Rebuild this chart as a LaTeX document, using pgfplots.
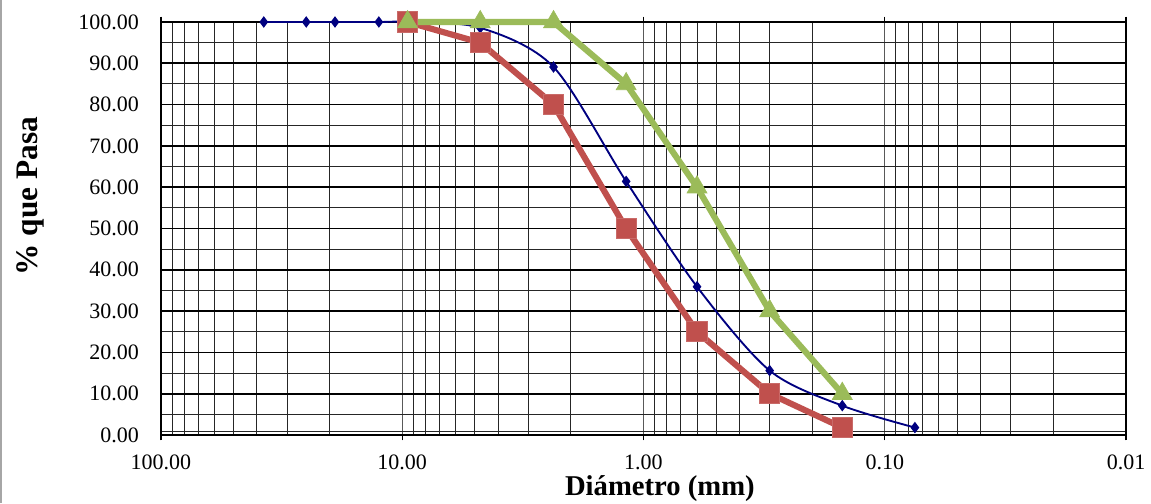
\documentclass[border=0pt]{standalone}
\usepackage{fontspec}
\setmainfont{Liberation Serif}
\usepackage{pgfplots}
\pgfplotsset{compat=1.18}
\definecolor{navyS}{RGB}{0,0,128}
\definecolor{redS}{RGB}{192,80,77}
\definecolor{greenS}{RGB}{155,187,89}
\begin{document}
\begin{tikzpicture}
\useasboundingbox (-120.75pt,-51pt) rectangle (742.5pt,326.25pt);
\draw[gray!70, line width=1.3pt] (-120.1pt,-51pt) -- (-120.1pt,326.25pt);
% background axis: vertical grid
\begin{axis}[
  at={(0pt,0pt)}, anchor=south west,
  scale only axis, width=723.75pt, height=309.75pt,
  xmode=log, x dir=reverse, xmin=0.01, xmax=100, ymin=0, ymax=100,
  xtick={0.01,0.1,1,10,100},
  minor xtick={0.02,0.03,0.04,0.05,0.06,0.07,0.08,0.09,0.2,0.3,0.4,0.5,0.6,0.7,0.8,0.9,2,3,4,5,6,7,8,9,20,30,40,50,60,70,80,90},
  ytick=\empty,
  xticklabels={},
  xmajorgrids, xminorgrids,
  major grid style={black!65, line width=0.9pt},
  minor grid style={black!85, line width=0.75pt},
  major tick length=0pt, minor tick length=0pt,
  axis line style={draw=none},
]
\end{axis}
% main axis
\begin{axis}[
  at={(0pt,0pt)}, anchor=south west,
  scale only axis, width=723.75pt, height=309.75pt,
  xmode=log, x dir=reverse, xmin=0.01, xmax=100, ymin=0, ymax=100,
  xtick={0.01,0.1,1,10,100},
  xticklabels={0.01,0.10,1.00,10.00,100.00},
  ytick={0,10,20,30,40,50,60,70,80,90,100},
  yticklabels={0.00,10.00,20.00,30.00,40.00,50.00,60.00,70.00,80.00,90.00,100.00},
  minor ytick={0.8,5,15,25,35,45,55,65,75,85,95},
  minor xtick={},
  ymajorgrids, yminorgrids,
  major grid style={black, line width=1.3pt},
  minor grid style={black!85, line width=0.75pt},
  tick align=outside,
  major tick length=4pt, minor tick length=0pt,
  xtick style={black, line width=0.8pt},
  ytick style={draw=none},
  axis line style={black, line width=1.6pt},
  ticklabel style={font=\fontsize{16.5}{20}\selectfont},
  xticklabel style={yshift=-11pt, inner sep=0pt},
  yticklabel style={xshift=-9pt},
  xlabel={Diámetro (mm)},
  ylabel={\% que Pasa},
  xlabel style={font=\fontsize{21.5}{26}\selectfont\bfseries, at={(axis description cs:0.517,-0.1475)}, anchor=base, inner sep=0pt},
  ylabel style={font=\fontsize{23.5}{27}\selectfont\bfseries, at={(axis description cs:-0.1358,0.578)}, anchor=center},
  clip=false,
]
\addplot[navyS, line width=1.4pt, smooth, mark=diamond*, mark size=3.2pt, mark options={solid, fill=navyS}]
 coordinates {(37.5,100) (25,100) (19,100) (12.5,100) (9.5,100) (4.75,98.6) (2.36,89.1) (1.18,61.4) (0.6,35.9) (0.3,15.6) (0.15,7.1) (0.075,1.8)};
\addplot[redS, line width=4.6pt, mark=square*, mark size=7.6pt, mark options={solid, fill=redS, draw=redS!85!white, line width=0.6pt}]
 coordinates {(9.5,100) (4.75,95) (2.36,80) (1.18,50) (0.6,25) (0.3,10) (0.15,1.8)};
\addplot[greenS, line width=4.6pt, mark=triangle*, mark size=8.7pt, mark options={solid, fill=greenS, draw=greenS, line width=0.4pt}]
 coordinates {(9.5,100) (4.75,100) (2.36,100) (1.18,85) (0.6,60) (0.3,30) (0.15,10)};
\end{axis}
\end{tikzpicture}
\end{document}
